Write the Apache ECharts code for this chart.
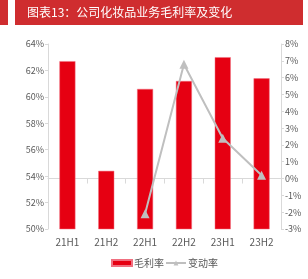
<!DOCTYPE html>
<html><head><meta charset="utf-8">
<script src="https://cdn.jsdelivr.net/npm/echarts@6/dist/echarts.min.js"></script>
<style>html,body{margin:0;padding:0;background:#fff;}#c{width:308px;height:279px;}</style>
</head><body><div id="c"></div>
<script>
var categories = ['21H1','21H2','22H1','22H2','23H1','23H2'];
var grossMargin = [62.7, 54.4, 60.6, 61.2, 63.0, 61.4];
var changeRate = [null, null, -2.1, 6.8, 2.4, 0.2];
var titleText = '图表13：公司化妆品业务毛利率及变化';

var chart = echarts.init(document.getElementById('c'));
var font = '"Noto Sans CJK SC", "Open Sans", sans-serif';
chart.setOption({
  animation: false,
  textStyle: {fontFamily: font},
  graphic: [
    {type: 'rect', shape: {x: 0, y: 0, width: 8, height: 25}, style: {fill: '#cf2d2f'}},
    {type: 'rect', shape: {x: 15, y: 0, width: 288, height: 25}, style: {fill: '#cf2d2f'}},
    {type: 'text', left: 27, top: 6, style: {text: titleText, fill: '#fff', font: '12px "Noto Sans CJK SC"'}}
  ],
  legend: {
    top: 253, left: 106, itemWidth: 20, itemHeight: 6, itemGap: 1,
    textStyle: {fontSize: 10, color: '#595959', padding: [0, 0, 0, -3]},
    data: [{name: '毛利率', icon: 'rect'}, {name: '变动率'}]
  },
  grid: {left: 48, right: 27, top: 44, bottom: 50},
  xAxis: {
    type: 'category', data: categories,
    axisLine: {lineStyle: {color: '#d9d9d9'}},
    axisTick: {show: true, lineStyle: {color: '#d9d9d9'}},
    axisLabel: {color: '#595959', fontSize: 10, margin: 8}
  },
  yAxis: [
    {type: 'value', min: 50, max: 64, interval: 2,
     axisLine: {show: true, lineStyle: {color: '#d9d9d9'}},
     axisTick: {show: true, length: 3, lineStyle: {color: '#d9d9d9'}},
     splitLine: {show: false},
     axisLabel: {color: '#595959', fontSize: 9, margin: 4, formatter: '{value}%'}},
    {type: 'value', min: -3, max: 8, interval: 1,
     axisLine: {show: true, lineStyle: {color: '#d9d9d9'}},
     axisTick: {show: true, length: 3, lineStyle: {color: '#d9d9d9'}},
     splitLine: {show: false},
     axisLabel: {color: '#595959', fontSize: 9, margin: 4, formatter: '{value}%'}}
  ],
  series: [
    {name: '毛利率', type: 'bar', data: grossMargin, barWidth: 16,
     itemStyle: {color: '#e60012', borderColor: '#f07080', borderWidth: 0.5}},
    {name: '变动率', type: 'line', yAxisIndex: 1, data: changeRate,
     symbol: 'triangle', symbolSize: 9, connectNulls: false,
     lineStyle: {color: '#bfbfbf', width: 2}, itemStyle: {color: '#bfbfbf'}}
  ]
});
</script></body></html>
